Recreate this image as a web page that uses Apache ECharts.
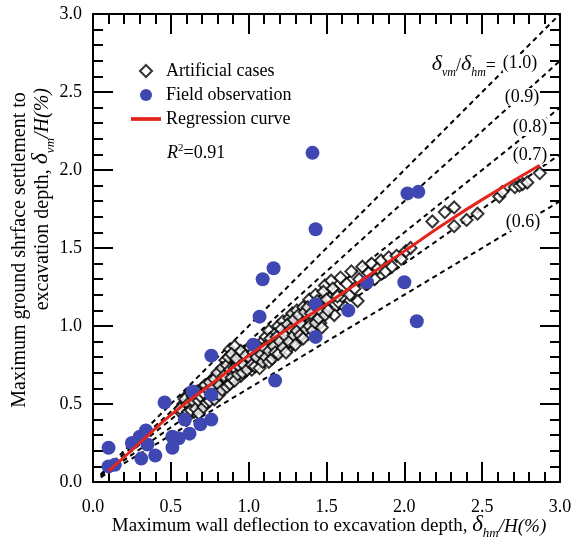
<!DOCTYPE html>
<html>
<head>
<meta charset="utf-8">
<script src="https://cdn.jsdelivr.net/npm/echarts@6/dist/echarts.min.js"></script>
<style>
html,body{margin:0;padding:0;background:#fff;}
#chart{width:575px;height:545px;}
</style>
</head>
<body>
<div id="chart"></div>
<script>
// ---------------- data ----------------
const artificialCases = [
  [0.57,0.44],[0.58,0.50],[0.60,0.47],[0.60,0.55],[0.62,0.43],[0.62,0.52],[0.63,0.58],[0.64,0.48],[0.65,0.45],[0.66,0.54],
  [0.67,0.50],[0.68,0.57],[0.69,0.47],[0.70,0.53],[0.70,0.60],[0.72,0.50],[0.72,0.56],[0.73,0.62],[0.74,0.53],[0.75,0.58],
  [0.76,0.65],[0.77,0.55],[0.78,0.61],[0.79,0.68],[0.80,0.58],[0.80,0.64],[0.82,0.60],[0.82,0.70],[0.83,0.66],[0.84,0.62],
  [0.85,0.72],[0.85,0.78],[0.86,0.65],[0.87,0.69],[0.88,0.85],[0.89,0.74],[0.90,0.66],[0.90,0.80],[0.91,0.87],[0.92,0.70],
  [0.93,0.76],[0.94,0.82],[0.95,0.68],[0.96,0.73],[0.97,0.79],[0.98,0.71],[0.99,0.85],[1.00,0.76],[1.00,0.82],[1.02,0.72],
  [1.03,0.79],[1.04,0.86],[1.05,0.75],[1.06,0.81],[1.07,0.77],[1.08,0.89],[1.09,0.84],[1.10,0.78],[1.11,0.93],[1.12,0.80],
  [1.12,0.86],[1.13,0.97],[1.14,0.83],[1.15,0.90],[1.16,0.81],[1.17,0.95],[1.18,0.87],[1.19,1.00],[1.20,0.84],[1.21,0.92],
  [1.22,1.03],[1.23,0.88],[1.24,0.97],[1.25,0.85],[1.26,1.05],[1.27,0.93],[1.28,1.08],[1.28,0.89],[1.30,1.00],[1.31,1.10],
  [1.32,0.92],[1.33,1.04],[1.34,0.96],[1.35,1.12],[1.36,1.00],[1.37,1.07],[1.38,0.95],[1.39,1.17],[1.40,1.03],[1.41,1.10],
  [1.42,0.99],[1.43,1.20],[1.44,1.06],[1.45,1.13],[1.46,1.02],[1.47,1.17],[1.48,1.09],[1.49,1.26],[1.50,1.12],[1.52,1.18],
  [1.53,1.29],[1.55,1.07],[1.56,1.22],[1.58,1.15],[1.59,1.31],[1.60,1.19],[1.62,1.12],[1.63,1.27],[1.65,1.20],[1.66,1.35],
  [1.68,1.24],[1.70,1.16],[1.71,1.30],[1.73,1.38],[1.75,1.27],[1.77,1.34],[1.79,1.40],[1.81,1.30],[1.83,1.37],[1.85,1.42],
  [1.88,1.35],[1.90,1.44],[1.92,1.38],[1.95,1.45],[1.98,1.43],[2.01,1.48],[2.04,1.50],
  [2.18,1.67],[2.26,1.73],[2.32,1.76],[2.32,1.64],[2.40,1.68],[2.47,1.72],[2.61,1.83],[2.63,1.86],[2.71,1.89],[2.74,1.90],
  [2.76,1.91],[2.79,1.92],[2.87,1.98],
  [0.56,0.47],[0.59,0.42],[0.59,0.53],[0.61,0.50],[0.61,0.45],[0.63,0.46],[0.64,0.55],[0.65,0.51],[0.66,0.47],[0.67,0.58],
  [0.68,0.44],[0.68,0.52],[0.69,0.55],[0.71,0.48],[0.71,0.57],[0.72,0.62],[0.73,0.51],[0.74,0.59],[0.75,0.52],[0.75,0.64],
  [0.76,0.56],[0.77,0.60],[0.78,0.53],[0.78,0.66],[0.79,0.57],[0.80,0.70],[0.81,0.62],[0.81,0.56],[0.83,0.59],[0.83,0.73],
  [0.84,0.68],[0.86,0.61],[0.86,0.75],[0.87,0.80],[0.88,0.63],[0.88,0.72],[0.89,0.67],[0.89,0.82],[0.91,0.73],[0.91,0.65],
  [0.92,0.79],[0.93,0.69],[0.94,0.74],[0.95,0.84],[0.96,0.70],[0.97,0.75],[0.98,0.81],[0.99,0.72],[1.01,0.79],[1.01,0.86],
  [1.02,0.75],[1.03,0.83],[1.04,0.74],[1.05,0.80],[1.06,0.87],[1.07,0.73],[1.08,0.82],[1.09,0.77],[1.10,0.86],[1.11,0.80],
  [1.13,0.84],[1.13,0.77],[1.14,0.92],[1.15,0.79],[1.16,0.87],[1.17,0.83],[1.18,0.93],[1.19,0.82],[1.20,0.90],[1.21,0.98],
  [1.22,0.86],[1.23,0.94],[1.24,0.83],[1.25,1.01],[1.26,0.90],[1.27,0.98],[1.29,0.94],[1.29,1.04],[1.30,0.88],[1.31,0.97],
  [1.32,1.07],[1.33,0.94],[1.34,1.01],[1.35,0.92],[1.36,1.09],[1.37,0.98],[1.38,1.12],[1.39,1.00],[1.40,1.08],[1.41,0.97],
  [1.42,1.14],[1.43,1.02],[1.44,1.16],[1.45,1.05],[1.46,1.10],[1.47,0.99],[1.48,1.22],[1.49,1.07],[1.50,1.17],[1.51,1.10],
  [1.54,1.24],[1.57,1.19]
];
const fieldObs = [
  [1.41,2.11],[1.43,1.62],[2.02,1.85],[2.09,1.86],[2.00,1.28],[2.08,1.03],[1.16,1.37],[1.09,1.30],[1.07,1.06],[1.03,0.88],
  [1.17,0.65],[0.76,0.81],[1.43,1.14],[1.43,0.93],[1.76,1.28],[1.64,1.10],[0.76,0.56],[0.76,0.40],[0.69,0.37],[0.64,0.58],
  [0.62,0.31],[0.59,0.40],[0.55,0.28],[0.51,0.22],[0.51,0.29],[0.46,0.51],[0.40,0.17],[0.35,0.24],[0.34,0.33],[0.30,0.29],
  [0.31,0.15],[0.25,0.25],[0.10,0.22],[0.10,0.10],[0.14,0.11]
];
const regressionCurve = [
  [0.10,0.07],[0.30,0.25],[0.50,0.43],[0.75,0.62],[1.00,0.81],[1.25,0.98],[1.50,1.14],
  [1.75,1.31],[2.00,1.48],[2.25,1.65],[2.50,1.81],[2.87,2.03]
];
const guideRatios = [1.0, 0.9, 0.8, 0.7, 0.6];
const guideLabels = ['(1.0)', '(0.9)', '(0.8)', '(0.7)', '(0.6)'];
const guideX = [0.05, 3.0];
const legendNames = ['Artificial cases', 'Field observation', 'Regression curve'];
const r2Text = '=0.91';
const xTitle = 'Maximum wall deflection to excavation depth, ';
const yTitle1 = 'Maximum ground shrface settlement to';
const yTitle2 = 'excavation depth, ';
// --------------------------------------

const FONT = 'Liberation Serif';
const chart = echarts.init(document.getElementById('chart'));

// text measuring for composing italic / subscript pieces as plain texts
const mctx = document.createElement('canvas').getContext('2d');
function textW(t, size, italic) {
  mctx.font = (italic ? 'italic ' : '') + size + 'px "Liberation Serif"';
  return mctx.measureText(t).width;
}
function piece(t, size, italic, dy) { return {t: t, s: size, it: italic, dy: dy || 0}; }
function rowWidth(ps) { return ps.reduce((a, p) => a + textW(p.t, p.s, p.it), 0); }
function hRow(ps, startX, baseY) {
  let cx = startX;
  return ps.map(p => {
    const el = {type: 'text', x: cx, y: baseY + p.dy, z: 100, silent: true,
      style: {text: p.t, fontFamily: FONT, fontSize: p.s, fontStyle: p.it ? 'italic' : 'normal',
        fill: '#000', align: 'left', verticalAlign: 'bottom'}};
    cx += textW(p.t, p.s, p.it);
    return el;
  });
}
function vRow(ps, baseX, startY) {
  let cy = startY;
  return ps.map(p => {
    const el = {type: 'text', x: baseX + p.dy, y: cy, rotation: Math.PI / 2, z: 100, silent: true,
      style: {text: p.t, fontFamily: FONT, fontSize: p.s, fontStyle: p.it ? 'italic' : 'normal',
        fill: '#000', align: 'left', verticalAlign: 'bottom'}};
    cy -= textW(p.t, p.s, p.it);
    return el;
  });
}

const xTitlePieces = [piece(xTitle, 19, false), piece('δ', 23, true), piece('hm', 13, true, 4), piece('/H(%)', 19, true)];
const yTitle2Pieces = [piece(yTitle2, 20, false), piece('δ', 24, true), piece('vm', 13, true, 4), piece('/H(%)', 20, true)];
const ratioPieces = [piece('δ', 22, true), piece('vm', 12, true, 4), piece('/', 18, false), piece('δ', 22, true), piece('hm', 12, true, 4), piece('=', 18, false)];
const r2Pieces = [piece('R', 18, true), piece('2', 11, false, -8), piece(r2Text, 18, false)];

const guideSeries = guideRatios.map((r, i) => ({
  type: 'line',
  name: 'guide' + i,
  data: guideX.map(x => [x, +(x * r).toFixed(4)]),
  symbol: 'none',
  silent: true,
  lineStyle: {color: '#000', width: 2, type: [5, 4]},
  z: 1
}));

function axisCommon(pos, showLabel, margin) {
  return {
    type: 'value', min: 0, max: 3, interval: 0.5, position: pos,
    axisLine: {show: true, onZero: false, lineStyle: {color: '#000', width: 2}},
    axisTick: {show: true, inside: true, length: 20, lineStyle: {color: '#000', width: 2}},
    minorTick: {show: true, splitNumber: 5, length: 10, lineStyle: {color: '#000', width: 2}},
    splitLine: {show: false},
    axisLabel: {show: showLabel, color: '#000', fontFamily: FONT, fontSize: 18, margin: margin,
      formatter: v => v.toFixed(1)}
  };
}

const guideLabelPos = [[520, 63], [522, 97], [530, 127], [530, 155], [523, 222]];

const graphics = []
  .concat(hRow(xTitlePieces, 329 - rowWidth(xTitlePieces) / 2, 536))
  .concat([{type: 'text', x: 20, y: 250, rotation: Math.PI / 2, z: 100, silent: true,
    style: {text: yTitle1, fontFamily: FONT, fontSize: 20, fill: '#000', align: 'center', verticalAlign: 'middle'}}])
  .concat(vRow(yTitle2Pieces, 53, 88 + rowWidth(yTitle2Pieces)))
  .concat(hRow(ratioPieces, 496 - rowWidth(ratioPieces), 75))
  .concat(hRow(r2Pieces, 167, 162))
  .concat(guideLabels.map((t, i) => ({
    type: 'text', x: guideLabelPos[i][0], y: guideLabelPos[i][1], z: 100, silent: true,
    style: {text: t, align: 'center', verticalAlign: 'middle',
      fontFamily: FONT, fontSize: 18, fill: '#000', backgroundColor: '#fff'}
  })));

const option = {
  animation: false,
  backgroundColor: '#fff',
  grid: {left: 93, right: 15, top: 14, bottom: 63},
  xAxis: [axisCommon('bottom', true, 16), axisCommon('top', false, 8)],
  yAxis: [axisCommon('left', true, 11), axisCommon('right', false, 8)],
  legend: {
    show: true, orient: 'vertical', left: 126, top: 57,
    itemWidth: 30, itemHeight: 12, itemGap: 6,
    data: [
      {name: legendNames[0], icon: 'path://M6,0L12,6L6,12L0,6Z'},
      {name: legendNames[1], icon: 'circle'},
      {name: legendNames[2], icon: 'path://M0,0H24V3H0Z'}
    ],
    textStyle: {fontFamily: FONT, fontSize: 18, color: '#000'},
    selectedMode: false
  },
  series: guideSeries.concat([
    {
      type: 'scatter', name: legendNames[0], data: artificialCases,
      symbol: 'diamond', symbolSize: 12,
      itemStyle: {color: '#fff', borderColor: '#000', borderWidth: 2},
      z: 3
    },
    {
      type: 'scatter', name: legendNames[1], data: fieldObs,
      symbol: 'circle', symbolSize: 14,
      itemStyle: {color: '#3F48B2', opacity: 1},
      z: 4
    },
    {
      type: 'line', name: legendNames[2], data: regressionCurve,
      smooth: true, symbol: 'none',
      lineStyle: {color: '#E4251E', width: 3},
      itemStyle: {color: '#E4251E'},
      z: 5
    }
  ]),
  graphic: graphics
};
chart.setOption(option);
</script>
</body>
</html>
